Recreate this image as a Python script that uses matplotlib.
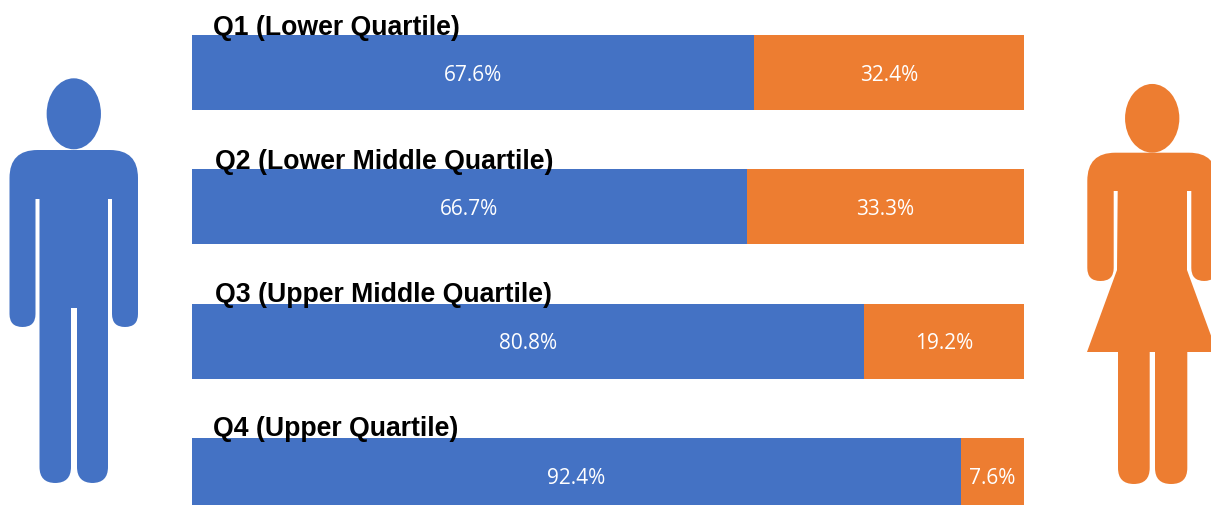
import matplotlib
matplotlib.use("Agg")
import matplotlib.pyplot as plt
from matplotlib.patches import Ellipse, PathPatch
from matplotlib.path import Path

quartiles = ["Q1 (Lower Quartile)", "Q2 (Lower Middle Quartile)",
             "Q3 (Upper Middle Quartile)", "Q4 (Upper Quartile)"]
male = [67.6, 66.7, 80.8, 92.4]
female = [32.4, 33.3, 19.2, 7.6]

BLUE = "#4472C4"
ORANGE = "#ED7D31"
W, H = 1211, 506


def rounded(points):
    # points are (x, y, corner radius), closed outline with quadratic corners
    verts, codes = [], []
    n = len(points)
    for i, (x, y, r) in enumerate(points):
        if r == 0:
            verts.append((x, y))
            codes.append(Path.LINETO)
            continue
        px, py, _ = points[i - 1]
        nx, ny, _ = points[(i + 1) % n]
        d1 = ((px - x) ** 2 + (py - y) ** 2) ** 0.5
        d2 = ((nx - x) ** 2 + (ny - y) ** 2) ** 0.5
        verts.append((x + (px - x) * r / d1, y + (py - y) * r / d1))
        codes.append(Path.LINETO)
        verts.append((x, y))
        codes.append(Path.CURVE3)
        verts.append((x + (nx - x) * r / d2, y + (ny - y) * r / d2))
        codes.append(Path.CURVE3)
    codes[0] = Path.MOVETO
    verts.append(verts[0])
    codes.append(Path.CLOSEPOLY)
    return Path(verts, codes)


fig = plt.figure(figsize=(W / 100, H / 100), dpi=100)

# bars, x axis runs 0-100 across 192..1024 px
ax = fig.add_axes([192 / W, 0, 832 / W, 1])
ax.barh(range(4), male, height=0.558, color=BLUE, clip_on=False)
ax.barh(range(4), female, left=male, height=0.558, color=ORANGE, clip_on=False)
ax.set_xlim(0, 100)
ax.set_ylim((505 - 72.5) / 134.4, -73.5 / 134.4)
ax.axis("off")
for i in range(4):
    ax.text(male[i] / 2, i + 0.012, "%.1f%%" % male[i], color="white", ha="center",
            va="center", fontsize=15, family="Open Sans")
    ax.text(male[i] + female[i] / 2, i + 0.012, "%.1f%%" % female[i], color="white",
            ha="center", va="center", fontsize=15, family="Open Sans")

# overlay in pixel coordinates for the headings and the two figures
over = fig.add_axes([0, 0, 1, 1], facecolor="none")
over.set_xlim(0, W)
over.set_ylim(H - 1, -1)
over.axis("off")

label_x = [213, 215, 215, 213]
for i, name in enumerate(quartiles):
    over.text(label_x[i], 33.5 + 134 * i, name, fontsize=19.2, fontweight="bold",
              family="Liberation Sans", color="black", ha="left", va="baseline")

man = [(74, 150, 0), (138, 150, 28), (138, 327, 13), (112, 327, 13), (112, 199, 0),
       (108, 199, 0), (108, 483, 16), (77, 483, 16), (77, 308, 0), (71, 308, 0),
       (71, 483, 16), (39.5, 483, 16), (39.5, 199, 0), (35.5, 199, 0),
       (35.5, 327, 13), (9.5, 327, 13), (9.5, 150, 28)]
over.add_patch(Ellipse((73.8, 113.8), 54.3, 71, color=BLUE, lw=0))
over.add_patch(PathPatch(rounded(man), facecolor=BLUE, lw=0))

woman = [(1152, 152.7, 0), (1217, 152.7, 28), (1217, 281, 13), (1191.3, 281, 13),
         (1191.3, 191, 0), (1187, 191, 0), (1187, 270, 0), (1217, 352, 0),
         (1187.3, 352, 0), (1187.3, 484, 16), (1155, 484, 16), (1155, 352, 0),
         (1149.7, 352, 0), (1149.7, 484, 16), (1118, 484, 16), (1118, 352, 0),
         (1087, 352, 0), (1117, 270, 0), (1117.7, 191, 0), (1113.7, 191, 0),
         (1113.7, 281, 13), (1087.3, 281, 13), (1087.3, 152.7, 28)]
over.add_patch(Ellipse((1152.2, 118.3), 54.3, 68.7, color=ORANGE, lw=0))
over.add_patch(PathPatch(rounded(woman), facecolor=ORANGE, lw=0))

fig.savefig("out.png", dpi=100)
